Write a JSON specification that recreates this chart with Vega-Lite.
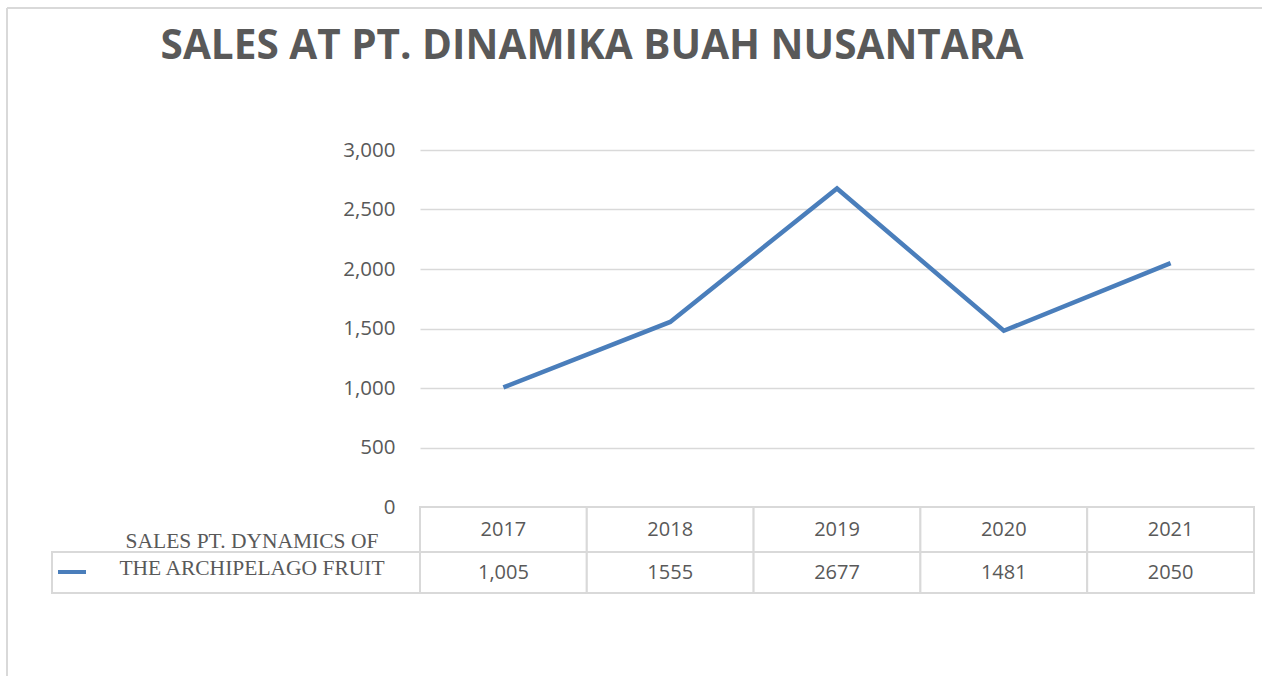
{
  "$schema": "https://vega.github.io/schema/vega-lite/v6.json",
  "background": "white",
  "padding": {"left": 6, "top": 7, "right": 0, "bottom": 0},
  "datasets": {
    "sales": [
      {"year": "2017", "sales": 1005, "label": "1,005", "series": "SALES PT. DYNAMICS OF THE ARCHIPELAGO FRUIT"},
      {"year": "2018", "sales": 1555, "label": "1555", "series": "SALES PT. DYNAMICS OF THE ARCHIPELAGO FRUIT"},
      {"year": "2019", "sales": 2677, "label": "2677", "series": "SALES PT. DYNAMICS OF THE ARCHIPELAGO FRUIT"},
      {"year": "2020", "sales": 1481, "label": "1481", "series": "SALES PT. DYNAMICS OF THE ARCHIPELAGO FRUIT"},
      {"year": "2021", "sales": 2050, "label": "2050", "series": "SALES PT. DYNAMICS OF THE ARCHIPELAGO FRUIT"}
    ]
  },
  "config": {"view": {"stroke": null}, "font": "Open Sans"},
  "spacing": 0,
  "bounds": "flush",
  "hconcat": [
    {
      "width": 45, "height": 668,
      "data": {"values": []},
      "mark": "point",
      "view": {"stroke": "#d9d9d9", "strokeWidth": 2, "strokeDash": [45, 713, 668, 0]}
    },
    {
      "spacing": 0,
      "bounds": "flush",
      "vconcat": [
        {
          "width": 1210, "height": 142,
          "data": {"values": []},
          "mark": "point",
          "view": {"stroke": "#d9d9d9", "strokeWidth": 2, "strokeDash": [1210, 1494]}
        },
        {
          "columns": 2,
          "spacing": 0,
          "bounds": "flush",
          "concat": [
            {"width": 368, "height": 357, "data": {"values": []}, "mark": "point"},
            {
              "width": 834, "height": 357,
              "data": {"name": "sales"},
              "title": {"text": "SALES AT PT. DINAMIKA BUAH NUSANTARA", "font": "Open Sans", "fontSize": 40.5, "fontWeight": "bold", "color": "#595959", "anchor": "middle", "dx": -245, "baseline": "alphabetic", "offset": 41},
              "mark": {"type": "line", "strokeWidth": 4.5},
              "encoding": {
                "x": {"field": "year", "type": "ordinal", "scale": {"type": "point", "padding": 0.5}, "axis": null},
                "y": {"field": "sales", "type": "quantitative", "scale": {"domain": [0, 3000], "nice": false},
                  "axis": {"values": [0, 500, 1000, 1500, 2000, 2500, 3000], "format": ",.0f", "title": null, "domain": false, "ticks": false, "tickSize": 0, "labelPadding": 25, "labelFontSize": 20.5, "labelColor": "#595959", "labelFont": "Open Sans", "grid": true, "gridColor": "#d9d9d9", "gridWidth": 1.5}},
                "color": {"field": "series", "type": "nominal", "scale": {"range": ["#4a7ebb"]},
                  "legend": {"orient": "none", "legendX": 49, "legendY": 548, "title": null, "symbolType": "stroke", "symbolSize": 784, "symbolStrokeWidth": 4, "labelFont": "Liberation Serif", "labelFontSize": 21.5, "labelColor": "#595959", "labelAlign": "center", "labelOffset": 164, "labelLimit": 600, "labelExpr": "[slice(datum.label, 0, 21), slice(datum.label, 22)]", "padding": 0,
                    "encode": {"labels": {"update": {"lineHeight": {"value": 27}, "dy": {"value": -30}}}}}}
              }
            },
            {"width": 368, "height": 45, "data": {"values": []}, "mark": "point"},
            {
              "width": 834, "height": 45,
              "data": {"name": "sales"},
              "encoding": {"x": {"field": "year", "type": "ordinal", "scale": {"paddingInner": 0, "paddingOuter": 0}, "axis": null}},
              "layer": [
                {"mark": {"type": "rect", "fill": "white", "stroke": "#d9d9d9", "strokeWidth": 2}},
                {"mark": {"type": "text", "fontSize": 20, "color": "#595959", "font": "Open Sans"}, "encoding": {"text": {"field": "year"}}}
              ]
            },
            {"width": 368, "height": 41, "data": {"values": []}, "mark": "point", "view": {"stroke": "#d9d9d9", "strokeWidth": 2}},
            {
              "width": 834, "height": 41,
              "data": {"name": "sales"},
              "encoding": {"x": {"field": "year", "type": "ordinal", "scale": {"paddingInner": 0, "paddingOuter": 0}, "axis": null}},
              "layer": [
                {"mark": {"type": "rect", "fill": "white", "stroke": "#d9d9d9", "strokeWidth": 2}},
                {"mark": {"type": "text", "fontSize": 20, "color": "#595959", "font": "Open Sans"}, "encoding": {"text": {"field": "label"}}}
              ]
            }
          ]
        }
      ]
    }
  ]
}
